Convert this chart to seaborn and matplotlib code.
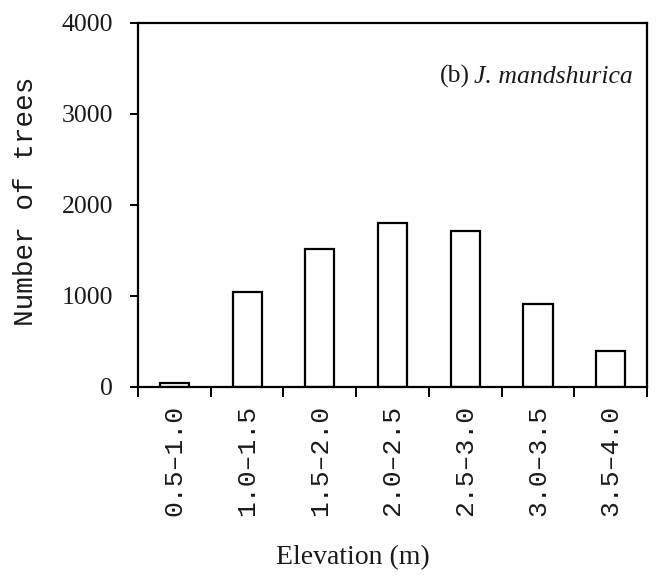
import matplotlib
matplotlib.use("Agg")
import matplotlib.pyplot as plt
import seaborn as sns
import pandas as pd
from matplotlib.ticker import FixedLocator

# Elevation classes and tree counts for J. mandshurica
elevation_classes = ["0.5–1.0", "1.0–1.5", "1.5–2.0", "2.0–2.5",
                     "2.5–3.0", "3.0–3.5", "3.5–4.0"]
tree_counts = [40, 1040, 1510, 1795, 1715, 910, 395]
y_ticks = [0, 1000, 2000, 3000, 4000]

df = pd.DataFrame({"elevation": elevation_classes, "trees": tree_counts})

sns.set_theme(style="ticks")
plt.rcParams["font.family"] = ["Liberation Serif", "DejaVu Serif"]

fig = plt.figure(figsize=(6.57, 5.81), dpi=100)
ax = fig.add_axes([0.210, 0.334, 0.775, 0.627])

sns.barplot(data=df, x="elevation", y="trees", color="white",
            edgecolor="black", linewidth=1.6, width=0.40,
            saturation=1, ax=ax)

ax.set_xlim(-0.5, len(elevation_classes) - 0.5)
ax.set_ylim(0, 4000)
ax.set_yticks(y_ticks)
ax.set_yticklabels([str(v) for v in y_ticks], fontsize=18.5,
                   family=["Liberation Serif"])

# category labels without tick marks; tick marks on class boundaries
ax.set_xticks(range(len(elevation_classes)))
ax.set_xticklabels(elevation_classes, rotation=90, fontsize=19,
                   family=["Liberation Mono"], color="#1a1a1a")
ax.xaxis.set_minor_locator(FixedLocator(
    [i - 0.5 for i in range(len(elevation_classes) + 1)]))
ax.tick_params(axis="x", which="major", length=0, pad=13)
ax.tick_params(axis="x", which="minor", length=7.5, width=1.4,
               direction="out", color="black")
ax.tick_params(axis="y", which="major", length=6, width=1.4,
               direction="out", pad=12, colors="black", labelcolor="#1a1a1a")

for side in ["left", "right", "top", "bottom"]:
    ax.spines[side].set_visible(True)
    ax.spines[side].set_linewidth(1.6)
    ax.spines[side].set_color("black")

ax.set_xlabel("Elevation (m)", fontsize=20, family=["Liberation Serif"],
              color="#1a1a1a")
ax.xaxis.set_label_coords(0.422, -0.435)
ax.set_ylabel("Number of trees", fontsize=20, family=["Liberation Mono"],
              color="#1a1a1a")
ax.yaxis.set_label_coords(-0.195, 0.51)

# panel tag with italic species name
species = ax.text(0.9725, 0.835, "J. mandshurica", transform=ax.transAxes,
                  ha="right", va="baseline", fontsize=18.5, style="italic",
                  family=["Liberation Serif"], color="#1a1a1a")
ax.annotate("(b)", xy=(0, 0), xycoords=species, xytext=(-3, 0),
            textcoords="offset points", ha="right", va="bottom",
            fontsize=18.5, family=["Liberation Serif"], color="#1a1a1a")

fig.savefig("out.png", dpi=100, facecolor="white")
